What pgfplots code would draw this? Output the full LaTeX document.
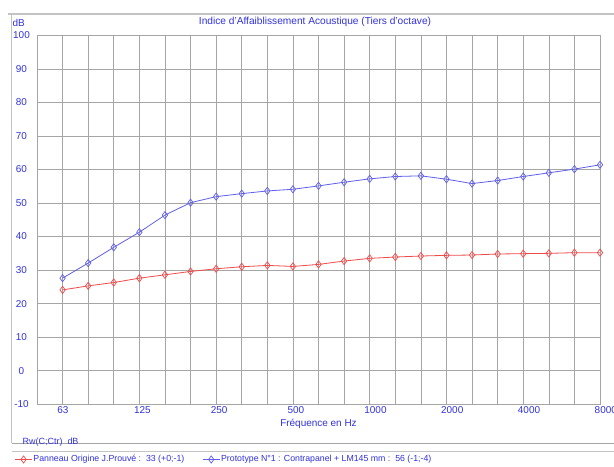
\documentclass[border=0pt]{standalone}
\usepackage{pgfplots}
\pgfplotsset{compat=1.18}
\usepackage{fontspec}
\setmainfont{Liberation Sans}
\definecolor{txtblue}{RGB}{50,50,220}
\definecolor{lineblue}{RGB}{95,95,235}
\definecolor{linered}{RGB}{240,75,75}
\definecolor{gridgray}{RGB}{165,165,165}
\definecolor{framegray}{RGB}{195,195,195}
\begin{document}
\begin{tikzpicture}[x=1bp,y=1bp]
\useasboundingbox (0,0) rectangle (614,467);
\fill[white] (0,0) rectangle (614,467);
% frame decorations
\draw[framegray, line width=1.6bp] (8,453) -- (614,453);
\draw[framegray, line width=0.8bp] (11.7,453) -- (11.7,23.7);
\draw[gridgray, line width=0.6bp] (11.7,23.7) -- (614,23.7);
\draw[framegray, line width=0.6bp] (11.7,15.3) -- (614,15.3);
\node[txtblue, font=\fontsize{10.2}{12}\selectfont] at (315,445) {Indice d'Affaiblissement Acoustique (Tiers d'octave)};
\node[txtblue, font=\fontsize{10}{12}\selectfont, anchor=west, inner sep=0pt] at (12.5,444) {dB};
\node[txtblue, font=\fontsize{10}{12}\selectfont] at (318.5,43) {Fréquence en Hz};
\node[txtblue, font=\fontsize{9}{10}\selectfont, anchor=west, inner sep=0pt] at (22.5,24.5) {Rw(C;Ctr)\ \ dB};
\begin{axis}[
  at={(37bp,62.7bp)}, anchor=south west,
  scale only axis, width=563bp, height=369bp,
  xmin=-1, xmax=21, ymin=-10, ymax=100,
  xtick={0,...,21},
  xticklabels={63,,,125,,,250,,,500,,,1000,,,2000,,,4000,,,8000},
  ytick={-10,0,...,100},
  major tick length=0pt,
  grid=major,
  major grid style={gridgray, line width=0.6bp},
  axis line style={gridgray, line width=0.6bp},
  /pgf/number format/assume math mode=true,
  ticklabel style={txtblue, font=\fontsize{10}{12}\selectfont},
  yticklabel style={anchor=center, xshift=-15.5bp},
  xticklabel style={anchor=north west, inner sep=0pt, xshift=-5.5bp, yshift=-2.4bp},
  legend columns=2,
  legend style={at={(-0.040,-0.1496)}, anchor=west, draw=none, fill=none,
    font=\fontsize{8.8}{10}\selectfont, text=txtblue, inner sep=0pt,
    nodes={inner xsep=1bp, inner ysep=1bp},
    /tikz/every even column/.append style={column sep=17bp}},
  legend cell align=left,
]
\addplot[linered, line width=0.8bp, mark=diamond, mark size=3.6bp, mark options={solid, line width=0.7bp}]
coordinates {
(0,24.1)(1,25.3)(2,26.3)(3,27.6)(4,28.6)(5,29.6)(6,30.4)(7,31.0)(8,31.4)(9,31.1)(10,31.7)
(11,32.7)(12,33.5)(13,33.9)(14,34.2)(15,34.4)(16,34.5)(17,34.8)(18,34.9)(19,35.0)(20,35.2)(21,35.2)
};
\addlegendentry{Panneau Origine J.Prouvé :\ \ 33 (+0;-1)}
\addplot[lineblue, line width=0.8bp, mark=diamond, mark size=3.6bp, mark options={solid, line width=0.7bp}]
coordinates {
(0,27.6)(1,32.1)(2,36.8)(3,41.3)(4,46.4)(5,50.1)(6,51.9)(7,52.8)(8,53.6)(9,54.1)(10,55.1)
(11,56.2)(12,57.2)(13,57.9)(14,58.1)(15,57.1)(16,55.8)(17,56.7)(18,57.9)(19,59.0)(20,60.1)(21,61.4)
};
\addlegendentry{Prototype N°1 : Contrapanel + LM145 mm :\ \ 56 (-1;-4)}
\end{axis}
\end{tikzpicture}
\end{document}
